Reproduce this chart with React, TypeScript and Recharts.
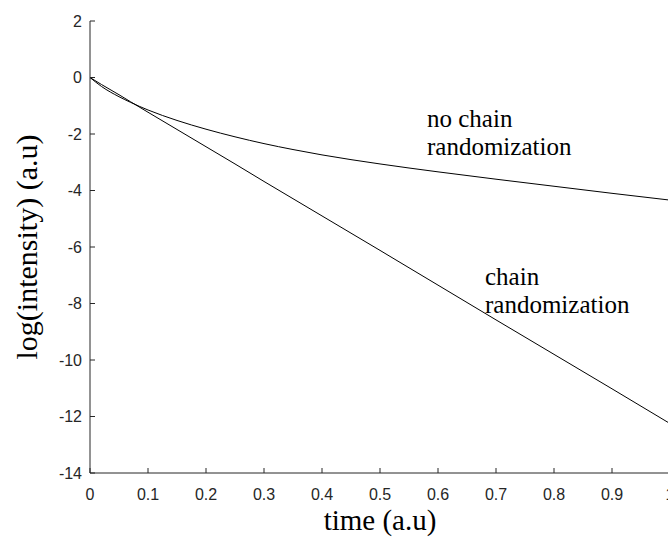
import { LineChart, Line, XAxis, YAxis, Customized } from 'recharts'

const time = [0, 0.02, 0.05, 0.07, 0.1, 0.15, 0.2, 0.25, 0.3, 0.35, 0.4, 0.5, 0.6, 0.7, 0.8, 0.9, 1]
const noChain = [0, -0.32, -0.68, -0.88, -1.15, -1.52, -1.83, -2.1, -2.34, -2.55, -2.74, -3.06, -3.34, -3.6, -3.85, -4.1, -4.34]
const chain = [0, -0.25, -0.61, -0.86, -1.23, -1.84, -2.45, -3.06, -3.68, -4.29, -4.9, -6.12, -7.35, -8.58, -9.8, -11.02, -12.25]

const xTicks = [0, 0.1, 0.2, 0.3, 0.4, 0.5, 0.6, 0.7, 0.8, 0.9, 1]
const yTicks = [2, 0, -2, -4, -6, -8, -10, -12, -14]

const data = time.map((t, i) => ({ t, noChain: noChain[i], chain: chain[i] }))

const axisColor = '#262626'
const tickFont = { fontSize: 16, fill: '#262626', fontFamily: 'Liberation Sans, Arial, sans-serif' }
const serif = 'Liberation Serif, Times New Roman, serif'

function Notes() {
    return (
        <g fontFamily={serif} fontSize={25} fill="#000">
            <text x={427} y={127}>no chain</text>
            <text x={427} y={155}>randomization</text>
            <text x={485} y={285}>chain</text>
            <text x={485} y={313}>randomization</text>
            <text x={380} y={530} textAnchor="middle" fontSize={29}>time (a.u)</text>
            <text x={0} y={0} textAnchor="middle" fontSize={30} transform="translate(37,247) rotate(-90)">
                log(intensity) (a.u)
            </text>
        </g>
    )
}

export default function App() {
    return (
        <div style={{ position: 'absolute', left: 0, top: 0, width: 668, height: 538, overflow: 'hidden', background: '#fff' }}>
            <LineChart width={680} height={538} data={data} margin={{ top: 21, right: 0, bottom: 0, left: 0 }}>
                <XAxis
                    dataKey="t"
                    type="number"
                    domain={[0, 1]}
                    ticks={xTicks}
                    tickFormatter={(v) => String(v)}
                    stroke={axisColor}
                    tickSize={-5}
                    tickMargin={21}
                    tick={tickFont}
                    height={65}
                />
                <XAxis
                    xAxisId="top"
                    orientation="top"
                    dataKey="t"
                    type="number"
                    domain={[0, 1]}
                    ticks={xTicks}
                    tickFormatter={() => ''}
                    stroke={axisColor}
                    tickSize={-5}
                    height={0}
                />
                <YAxis
                    type="number"
                    domain={[-14, 2]}
                    ticks={yTicks}
                    stroke={axisColor}
                    tickSize={-5}
                    tickMargin={13}
                    tick={tickFont}
                    width={90}
                />
                <YAxis
                    yAxisId="right"
                    orientation="right"
                    type="number"
                    domain={[-14, 2]}
                    ticks={yTicks}
                    tickFormatter={() => ''}
                    stroke={axisColor}
                    tickSize={-5}
                    width={10}
                />
                <Line type="monotone" dataKey="noChain" stroke="#000" strokeWidth={1} dot={false} isAnimationActive={false} />
                <Line type="linear" dataKey="chain" stroke="#000" strokeWidth={1} dot={false} isAnimationActive={false} />
                <Customized component={Notes} />
            </LineChart>
        </div>
    )
}
